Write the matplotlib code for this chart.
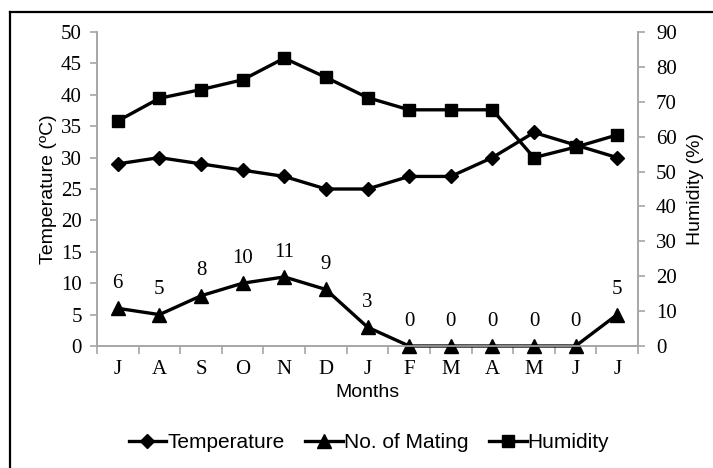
import matplotlib
matplotlib.use("Agg")
import matplotlib.pyplot as plt
from matplotlib.lines import Line2D
import numpy as np

months = ["J", "A", "S", "O", "N", "D", "J", "F", "M", "A", "M", "J", "J"]
temperature = [29, 30, 29, 28, 27, 25, 25, 27, 27, 30, 34, 32, 30]
mating = [6, 5, 8, 10, 11, 9, 3, 0, 0, 0, 0, 0, 5]
humidity = [64.5, 71, 73.5, 76.3, 82.5, 77, 71.2, 67.7, 67.7, 67.7, 54, 57, 60.5]

serif = "Liberation Serif"
sans = "Liberation Sans"
gray = "#a6a6a6"

fig = plt.figure(figsize=(7.13, 4.68), dpi=100)
ax = fig.add_axes([97/713, 1-346/468, (638-97)/713, (346-32)/468])
ax2 = ax.twinx()

x = np.arange(len(months))
lw = 2.4
l1, = ax.plot(x, temperature, color="black", lw=lw, marker="D", markersize=7,
              label="Temperature", clip_on=False, zorder=3)
l2, = ax.plot(x, mating, color="black", lw=lw, marker="^", markersize=10,
              label="No. of Mating", clip_on=False, zorder=3)
l3, = ax2.plot(x, humidity, color="black", lw=lw, marker="s", markersize=9,
               label="Humidity", clip_on=False, zorder=3)

for xi, v in zip(x, mating):
    ax.annotate(str(v), (xi, v), xytext=(0, 11), textcoords="offset points",
                ha="center", va="bottom", fontsize=15, family=serif)

ax.set_xlim(-0.5, len(months) - 0.5)
ax.set_ylim(0, 50)
ax2.set_ylim(0, 90)
ax.set_yticks(np.arange(0, 51, 5))
ax2.set_yticks(np.arange(0, 91, 10))

ax.set_xticks(np.arange(-0.5, len(months), 1))
ax.set_xticklabels([])
ax.set_xticks(x, minor=True)
ax.set_xticklabels(months, minor=True, fontsize=15, family=serif)
ax.tick_params(axis="x", which="minor", length=0, pad=10)
ax.tick_params(axis="x", which="major", length=6, color=gray, width=1.2)
ax.tick_params(axis="y", length=5, color=gray, width=1.2, labelsize=15, pad=6)
ax2.tick_params(axis="y", length=5, color=gray, width=1.2, labelsize=15, pad=8)
for lab in ax.get_yticklabels() + ax2.get_yticklabels():
    lab.set_family(serif)

for a in (ax, ax2):
    a.spines["top"].set_visible(False)
    for s in ("left", "right", "bottom"):
        a.spines[s].set_color(gray)
        a.spines[s].set_linewidth(1.2)

ax.set_ylabel("Temperature (ºC)", fontsize=14, family=sans, labelpad=3)
ax2.set_ylabel("Humidity (%)", fontsize=14, family=sans, labelpad=7)
ax.set_xlabel("Months", fontsize=14, family=sans, labelpad=4)

fig.legend(handles=[l1, l2, l3], loc="center", bbox_to_anchor=(369/713, 1-443/468),
           ncol=3, frameon=False, prop={"family": sans, "size": 15},
           handlelength=1.8, handletextpad=0.05, columnspacing=1.0)

fig.add_artist(Line2D([10/713, 10/713], [0, 1-12/468], color="black", lw=1.6,
                      transform=fig.transFigure))
fig.add_artist(Line2D([10/713, 1], [1-12/468, 1-12/468], color="black", lw=1.6,
                      transform=fig.transFigure))

fig.savefig("out.png", dpi=100)
